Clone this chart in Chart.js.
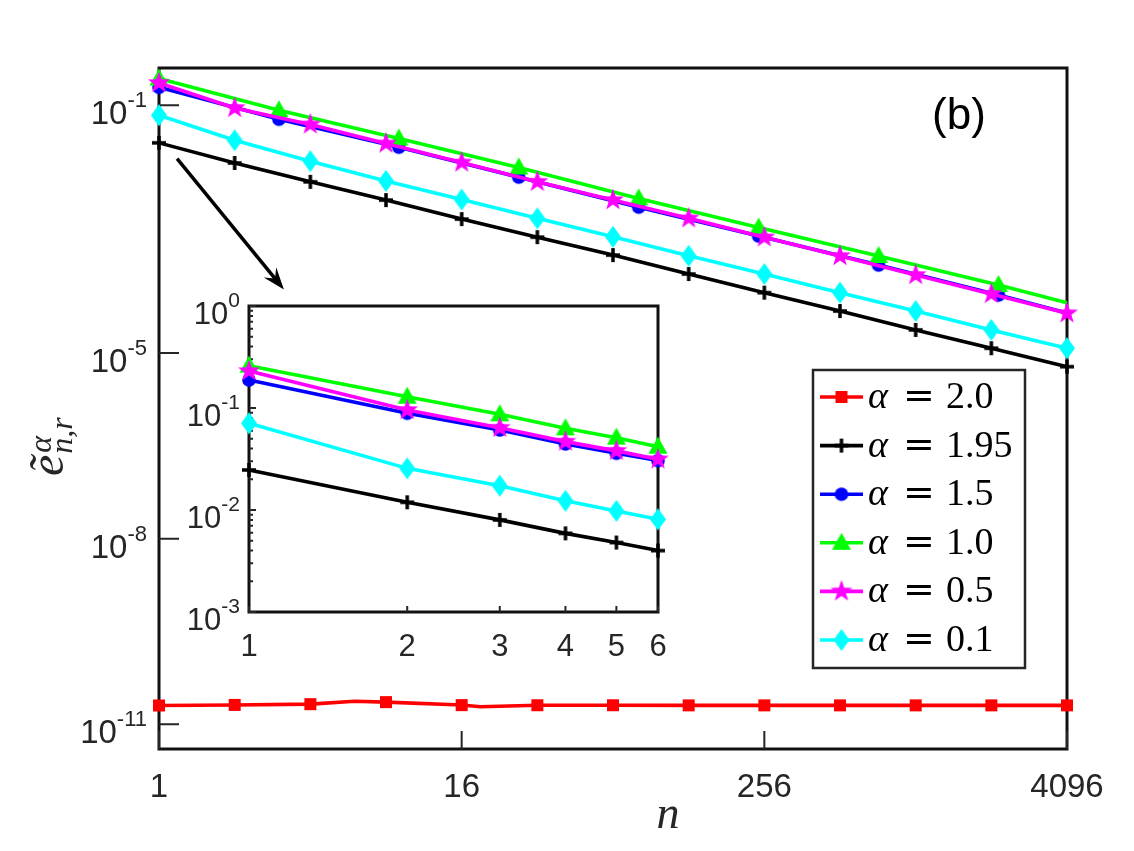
<!DOCTYPE html>
<html>
<head>
<meta charset="utf-8">
<title>Error decay (b)</title>
<script src="https://cdn.jsdelivr.net/npm/chart.js"></script>
<style>
  body { margin: 0; background: #fff; }
  #wrap { position: relative; width: 1134px; height: 851px; }
  #main-chart { position: absolute; left: 0; top: 0; }
  #inset-chart { position: absolute; left: 180px; top: 280px; }
</style>
</head>
<body>
<div id="wrap">
  <canvas id="main-chart" width="1134" height="851"></canvas>
  <canvas id="inset-chart" width="490" height="400"></canvas>
</div>
<script>
// n values used by the series
const pow2N = [1, 2, 4, 8, 16, 32, 64, 128, 256, 512, 1024, 2048, 4096];
const pow3N = [1, 3, 9, 27, 81, 243, 729, 2187, 4096];
const redN = [1, 2, 4, 6, 8, 16, 19, 32, 64, 128, 256, 512, 1024, 2048, 4096];

// errors
const errRed = [2.02e-11, 2.06e-11, 2.12e-11, 2.36e-11, 2.29e-11, 2.05e-11, 1.93e-11,
  2.04e-11, 2.04e-11, 2.03e-11, 2.03e-11, 2.03e-11, 2.03e-11, 2.03e-11, 2.03e-11];
const errBlack = [0.0247, 0.0117, 0.0058, 0.00294, 0.00145, 7.4e-4, 3.8e-4, 1.88e-4,
  9.4e-5, 4.75e-5, 2.35e-5, 1.19e-5, 6.0e-6];
const errBlue = [0.195, 0.0594, 0.021, 0.0069, 0.00226, 7.7e-4, 2.62e-4, 8.6e-5, 4.4e-5];
const errGreen = [0.27, 0.083, 0.029, 0.0099, 0.00313, 0.00106, 3.67e-4, 1.25e-4, 6.45e-5];
const errMagenta = [0.229, 0.0904, 0.049, 0.0241, 0.0119, 0.0058, 0.00294, 0.00149,
  7.35e-4, 3.67e-4, 1.81e-4, 8.95e-5, 4.37e-5];
const errCyan = [0.069, 0.0272, 0.0125, 0.0060, 0.0030, 0.00149, 7.5e-4, 3.7e-4,
  1.88e-4, 9.4e-5, 4.75e-5, 2.35e-5, 1.19e-5];

// inset (n = 1..6)
const insetN = [1, 2, 3, 4, 5, 6];
const insetBlack = [0.0247, 0.0119, 0.0080, 0.0059, 0.0048, 0.0040];
const insetBlue = [0.188, 0.0887, 0.0608, 0.0444, 0.036, 0.0305];
const insetGreen = [0.26, 0.129, 0.0867, 0.0632, 0.0512, 0.0418];
const insetMagenta = [0.23, 0.0955, 0.064, 0.0468, 0.038, 0.0314];
const insetCyan = [0.0708, 0.0256, 0.0173, 0.0123, 0.0098, 0.0081];

const alphaLabels = ['2.0', '1.95', '1.5', '1.0', '0.5', '0.1'];

// ticks
const xTicks = [1, 16, 256, 4096];
const yTicks = [1e-1, 1e-5, 1e-8, 1e-11];
const yTickExps = ['-1', '-5', '-8', '-11'];
const insetXTicks = [1, 2, 3, 4, 5, 6];
const insetYTicks = [1, 1e-1, 1e-2, 1e-3];
const insetYTickExps = ['0', '-1', '-2', '-3'];

// arrow from main curve to inset (data coords)
const arrowFrom = [1.18, 0.0138];
const arrowTo = [3.14, 1.06e-4];

const axisColor = '#262626';
const colors = ['#ff0000', '#000000', '#0000ff', '#00ff00', '#ff00ff', '#00ffff'];
const markerKinds = ['square', 'plus', 'circle', 'triangle', 'star', 'diamond'];

function makeMarker(kind, color) {
  const c = document.createElement('canvas');
  c.width = 28; c.height = 28;
  const g = c.getContext('2d');
  g.fillStyle = color;
  g.strokeStyle = color;
  g.translate(14, 14);
  g.beginPath();
  if (kind === 'square') {
    g.rect(-6, -6, 12, 12);
  } else if (kind === 'circle') {
    g.arc(0, 0, 6.8, 0, Math.PI * 2);
  } else if (kind === 'triangle') {
    g.moveTo(0, -10); g.lineTo(9.5, 7); g.lineTo(-9.5, 7); g.closePath();
  } else if (kind === 'diamond') {
    g.moveTo(0, -11); g.lineTo(8, 0); g.lineTo(0, 11); g.lineTo(-8, 0); g.closePath();
  } else if (kind === 'star') {
    for (let k = 0; k < 10; k++) {
      const r = k % 2 ? 4.6 : 11.5;
      const a = -Math.PI / 2 + k * Math.PI / 5;
      g.lineTo(r * Math.cos(a), r * Math.sin(a));
    }
    g.closePath();
  }
  if (kind === 'plus') {
    g.lineWidth = 3.5;
    g.moveTo(-7, 0); g.lineTo(7, 0);
    g.moveTo(0, -7); g.lineTo(0, 7);
    g.stroke();
  } else {
    g.fill();
  }
  return c;
}
const markers = colors.map((c, i) => makeMarker(markerKinds[i], c));

function isPow(n, b) {
  const k = Math.round(Math.log(n) / Math.log(b));
  return Math.abs(Math.pow(b, k) - n) < 1e-6;
}

function makeDataset(idx, ns, es, base) {
  const show = ctx => ctx.raw !== undefined && (base === 0 || isPow(ctx.raw.x, base));
  return {
    label: alphaLabels[idx],
    data: ns.map((n, i) => ({ x: n, y: es[i] })),
    borderColor: colors[idx],
    backgroundColor: colors[idx],
    borderWidth: 3.6,
    tension: 0,
    fill: false,
    clip: false,
    order: 6 - idx,
    pointStyle: ctx => show(ctx) ? markers[idx] : false,
    pointRadius: ctx => show(ctx) ? 6 : 0,
    pointHoverRadius: ctx => show(ctx) ? 6 : 0
  };
}

function drawPow(ctx, exp, rightX, tickY, baseSize, supSize, baseDy, supDy) {
  ctx.font = supSize + 'px "Liberation Sans", Arial, sans-serif';
  const supW = ctx.measureText(exp).width;
  ctx.font = baseSize + 'px "Liberation Sans", Arial, sans-serif';
  const baseW = ctx.measureText('10').width;
  const x0 = rightX - supW - baseW;
  ctx.textAlign = 'left';
  ctx.textBaseline = 'alphabetic';
  ctx.fillText('10', x0, tickY + baseDy);
  ctx.font = supSize + 'px "Liberation Sans", Arial, sans-serif';
  ctx.fillText(exp, x0 + baseW, tickY + supDy);
}

const mainDecor = {
  id: 'mainDecor',
  beforeDatasetsDraw(chart) {
    const { ctx, chartArea: a, scales: { x, y } } = chart;
    ctx.save();
    ctx.strokeStyle = '#111';
    ctx.lineWidth = 3;
    ctx.strokeRect(a.left, a.top, a.right - a.left, a.bottom - a.top);
    ctx.lineWidth = 2;
    ctx.strokeStyle = axisColor;
    ctx.beginPath();
    xTicks.forEach(v => {
      const px = x.getPixelForValue(v);
      ctx.moveTo(px, a.bottom); ctx.lineTo(px, a.bottom - 18);
    });
    yTicks.forEach(v => {
      const py = y.getPixelForValue(v);
      ctx.moveTo(a.left, py); ctx.lineTo(a.left + 20, py);
    });
    ctx.stroke();
    ctx.restore();
  },
  afterDraw(chart) {
    const { ctx, chartArea: a, scales: { x, y } } = chart;
    ctx.save();
    ctx.fillStyle = axisColor;
    // x tick labels
    ctx.font = '33px "Liberation Sans", Arial, sans-serif';
    ctx.textAlign = 'center';
    ctx.textBaseline = 'alphabetic';
    xTicks.forEach(v => ctx.fillText(String(v), x.getPixelForValue(v), a.bottom + 48));
    // y tick labels
    yTicks.forEach((v, i) => drawPow(ctx, yTickExps[i], a.left - 12, y.getPixelForValue(v), 33, 22, 19, 2));
    // x title
    ctx.font = 'italic 46px "Liberation Serif", serif';
    ctx.textAlign = 'center';
    ctx.fillText('n', (a.left + a.right) / 2 + 55, a.bottom + 79);
    // y title
    ctx.save();
    ctx.translate(63, 476);
    ctx.rotate(-Math.PI / 2);
    ctx.textAlign = 'left';
    ctx.font = 'italic 48px "Liberation Serif", serif';
    ctx.fillText('ẽ', 0, 0);
    const ew = ctx.measureText('ẽ').width;
    ctx.font = 'italic 32px "Liberation Serif", serif';
    ctx.fillText('α', ew + 2, -12);
    ctx.fillText('n,r', ew + 1, 9);
    ctx.restore();
    // panel label
    ctx.font = '44px "Liberation Sans", Arial, sans-serif';
    ctx.textAlign = 'center';
    ctx.fillStyle = '#000';
    ctx.fillText('(b)', a.right - 108, a.top + 61);
    // arrow
    const x0 = x.getPixelForValue(arrowFrom[0]), y0 = y.getPixelForValue(arrowFrom[1]);
    const x1 = x.getPixelForValue(arrowTo[0]), y1 = y.getPixelForValue(arrowTo[1]);
    const len = Math.hypot(x1 - x0, y1 - y0);
    const ux = (x1 - x0) / len, uy = (y1 - y0) / len;
    ctx.strokeStyle = '#000';
    ctx.lineWidth = 3.5;
    ctx.beginPath();
    ctx.moveTo(x0, y0);
    ctx.lineTo(x1 - ux * 12, y1 - uy * 12);
    ctx.stroke();
    ctx.beginPath();
    ctx.moveTo(x1, y1);
    ctx.lineTo(x1 - ux * 22 - uy * 8, y1 - uy * 22 + ux * 8);
    ctx.lineTo(x1 - ux * 14, y1 - uy * 14);
    ctx.lineTo(x1 - ux * 22 + uy * 8, y1 - uy * 22 - ux * 8);
    ctx.closePath();
    ctx.fill();
    // legend
    const lx = 813, ly = 370, lw = 212, lh = 298;
    ctx.fillStyle = '#fff';
    ctx.fillRect(lx, ly, lw, lh);
    ctx.strokeStyle = axisColor;
    ctx.lineWidth = 2.5;
    ctx.strokeRect(lx, ly, lw, lh);
    alphaLabels.forEach((lab, i) => {
      const ry = ly + 27 + i * 48.6;
      ctx.strokeStyle = colors[i];
      ctx.lineWidth = 3.6;
      ctx.beginPath();
      ctx.moveTo(lx + 7, ry); ctx.lineTo(lx + 50, ry);
      ctx.stroke();
      const m = markers[i];
      ctx.drawImage(m, lx + 28.5 - m.width / 2, ry - m.height / 2);
      ctx.fillStyle = '#000';
      ctx.textAlign = 'left';
      ctx.font = 'italic 38px "Liberation Serif", serif';
      ctx.fillText('α', lx + 55, ry + 11);
      ctx.font = '38px "DejaVu Serif", serif';
      ctx.fillText('=', lx + 90, ry + 11);
      ctx.font = '38px "Liberation Serif", serif';
      ctx.fillText(lab, lx + 133, ry + 11);
    });
    ctx.restore();
  }
};

const insetDecor = {
  id: 'insetDecor',
  beforeDatasetsDraw(chart) {
    const { ctx, chartArea: a, scales: { x, y } } = chart;
    ctx.save();
    ctx.fillStyle = '#fff';
    ctx.fillRect(a.left, a.top, a.right - a.left, a.bottom - a.top);
    ctx.strokeStyle = '#111';
    ctx.lineWidth = 3;
    ctx.strokeRect(a.left, a.top, a.right - a.left, a.bottom - a.top);
    ctx.strokeStyle = axisColor;
    ctx.lineWidth = 2;
    ctx.beginPath();
    insetXTicks.forEach(v => {
      const px = x.getPixelForValue(v);
      ctx.moveTo(px, a.bottom); ctx.lineTo(px, a.bottom - 6);
    });
    insetYTicks.forEach(v => {
      const py = y.getPixelForValue(v);
      ctx.moveTo(a.left, py); ctx.lineTo(a.left + 7, py);
      if (v < 1) {
        for (let k = 2; k <= 9; k++) {
          const pm = y.getPixelForValue(v * k);
          ctx.moveTo(a.left, pm); ctx.lineTo(a.left + 4, pm);
        }
      }
    });
    ctx.stroke();
    ctx.restore();
  },
  afterDraw(chart) {
    const { ctx, chartArea: a, scales: { x, y } } = chart;
    ctx.save();
    ctx.fillStyle = axisColor;
    ctx.font = '31px "Liberation Sans", Arial, sans-serif';
    ctx.textAlign = 'center';
    ctx.textBaseline = 'alphabetic';
    insetXTicks.forEach(v => ctx.fillText(String(v), x.getPixelForValue(v), a.bottom + 44));
    insetYTicks.forEach((v, i) => drawPow(ctx, insetYTickExps[i], a.left - 9, y.getPixelForValue(v), 31, 21, 18, 1));
    ctx.restore();
  }
};

new Chart(document.getElementById('main-chart'), {
  type: 'line',
  data: {
    datasets: [
      makeDataset(0, redN, errRed, 2),
      makeDataset(1, pow2N, errBlack, 2),
      makeDataset(2, pow3N, errBlue, 3),
      makeDataset(3, pow3N, errGreen, 3),
      makeDataset(4, pow2N, errMagenta, 2),
      makeDataset(5, pow2N, errCyan, 2)
    ]
  },
  options: {
    responsive: false,
    animation: false,
    events: [],
    layout: { padding: { left: 159, top: 68, right: 67, bottom: 102 } },
    plugins: { legend: { display: false }, tooltip: { enabled: false } },
    scales: {
      x: { type: 'logarithmic', min: 1, max: 4096, display: false },
      y: { type: 'logarithmic', min: 4e-12, max: 0.4, display: false }
    }
  },
  plugins: [mainDecor]
});

new Chart(document.getElementById('inset-chart'), {
  type: 'line',
  data: {
    datasets: [
      makeDataset(1, insetN, insetBlack, 0),
      makeDataset(2, insetN, insetBlue, 0),
      makeDataset(3, insetN, insetGreen, 0),
      makeDataset(4, insetN, insetMagenta, 0),
      makeDataset(5, insetN, insetCyan, 0)
    ]
  },
  options: {
    responsive: false,
    animation: false,
    events: [],
    layout: { padding: { left: 69, top: 26, right: 12, bottom: 68 } },
    plugins: { legend: { display: false }, tooltip: { enabled: false } },
    scales: {
      x: { type: 'logarithmic', min: 1, max: 6, display: false },
      y: { type: 'logarithmic', min: 1e-3, max: 1, display: false }
    }
  },
  plugins: [insetDecor]
});
</script>
</body>
</html>
